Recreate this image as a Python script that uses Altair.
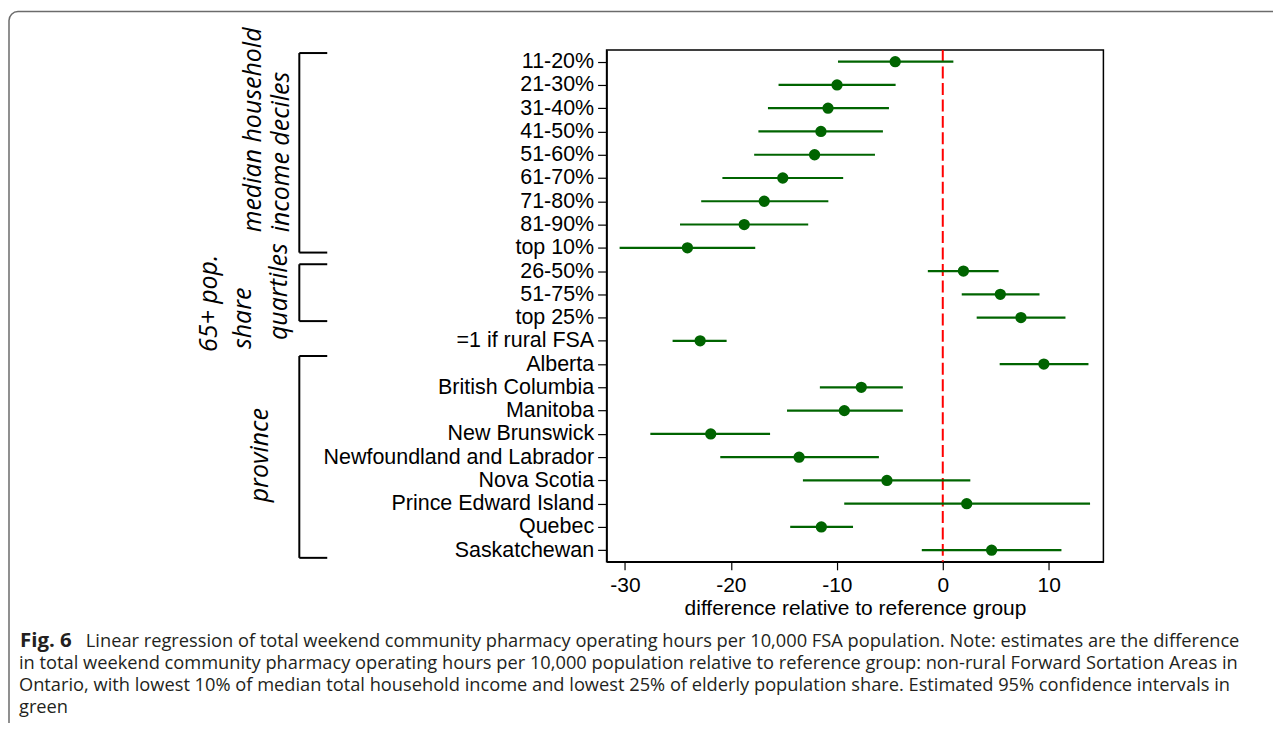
import altair as alt
import pandas as pd

# ---------------- data ----------------
labels = ["11-20%", "21-30%", "31-40%", "41-50%", "51-60%", "61-70%", "71-80%", "81-90%", "top 10%",
          "26-50%", "51-75%", "top 25%", "=1 if rural FSA",
          "Alberta", "British Columbia", "Manitoba", "New Brunswick", "Newfoundland and Labrador",
          "Nova Scotia", "Prince Edward Island", "Quebec", "Saskatchewan"]
estimate = [-4.49, -9.98, -10.83, -11.5, -12.1, -15.1, -16.85, -18.74, -24.1,
            1.95, 5.43, 7.38, -22.9,
            9.54, -7.69, -9.29, -21.9, -13.56, -5.27, 2.26, -11.46, 4.61]
ci_low = [-9.89, -15.5, -16.5, -17.4, -17.8, -20.8, -22.8, -24.8, -30.5,
          -1.41, 1.79, 3.2, -25.5,
          5.37, -11.6, -14.7, -27.6, -21.0, -13.2, -9.3, -14.4, -1.98]
ci_high = [1.0, -4.45, -5.08, -5.65, -6.4, -9.4, -10.8, -12.7, -17.7,
           5.27, 9.13, 11.58, -20.4,
           13.75, -3.77, -3.77, -16.3, -6.03, 2.6, 13.9, -8.47, 11.2]
x_ticks = [-30, -20, -10, 0, 10]

caption_bold = "Fig. 6"
caption_lines = [
    "Linear regression of total weekend community pharmacy operating hours per 10,000 FSA population. Note: estimates are the difference",
    "in total weekend community pharmacy operating hours per 10,000 population relative to reference group: non-rural Forward Sortation Areas in",
    "Ontario, with lowest 10% of median total household income and lowest 25% of elderly population share. Estimated 95% confidence intervals in",
    "green",
]

df = pd.DataFrame({"label": labels, "est": estimate, "lo": ci_low, "hi": ci_high})
one = pd.DataFrame({"a": [0]})

# ---------------- layout (page pixels) ----------------
LEFT, TOP = 608, 49.3          # plot origin on page
W, H = 498, 513
PAD = {"left": LEFT - 8, "top": TOP - 8, "right": 170, "bottom": 715 - (TOP - 8) - H}


def px(x):
    return x - LEFT


def py(y):
    return y - TOP


GREEN = "#006400"
LABEL_FONT = "Liberation Sans"

y_enc = alt.Y("label:N", sort=labels,
              scale=alt.Scale(type="point", padding=0.5),
              axis=alt.Axis(title=None, labelFont=LABEL_FONT, labelFontSize=21.5,
                            labelColor="black", tickColor="black", tickSize=9,
                            tickWidth=1.2, labelPadding=4, labelLimit=0,
                            domainColor="black", domainWidth=1.5))
x_scale = alt.Scale(domain=[-31.73, 15.16], nice=False, zero=False)
x_axis = alt.Axis(values=x_ticks, title="difference relative to reference group",
                  labelExpr="toString(datum.value)",
                  titleFont=LABEL_FONT, titleFontSize=21, titleFontWeight="normal",
                  titleColor="black", titlePadding=2,
                  labelFont=LABEL_FONT, labelFontSize=21, labelColor="black",
                  tickColor="black", tickSize=8, tickWidth=1.2, labelPadding=5,
                  domainColor="black", domainWidth=1.5, grid=False)

base = alt.Chart(df)

ci = base.mark_rule(color=GREEN, strokeWidth=2.2).encode(
    x=alt.X("lo:Q", scale=x_scale, axis=x_axis), x2="hi:Q", y=y_enc)
pts = base.mark_circle(color=GREEN, size=128, opacity=1).encode(
    x=alt.X("est:Q", scale=x_scale), y=y_enc)
zero_line = alt.Chart(one).mark_rule(color="#ff0000", strokeWidth=2,
                                     strokeDash=[12, 4.5]).encode(
    x=alt.datum(0, scale=x_scale))

layers = [zero_line, ci, pts]

# outer figure frame
layers.append(alt.Chart(one).mark_rect(fillOpacity=0, stroke="#6b6b6b", strokeWidth=1.5,
                                       cornerRadius=9).encode(
    x=alt.value(px(9)), x2=alt.value(px(1320)), y=alt.value(py(10.7)), y2=alt.value(py(800))))

# brackets
for top, bot in [(52.3, 252.3), (264, 321), (356, 558.3)]:
    layers.append(alt.Chart(one).mark_rule(color="black", strokeWidth=2).encode(
        x=alt.value(px(300)), y=alt.value(py(top)), y2=alt.value(py(bot))))
    for yy in (top, bot):
        layers.append(alt.Chart(one).mark_rule(color="black", strokeWidth=2).encode(
            x=alt.value(px(300)), x2=alt.value(px(328)), y=alt.value(py(yy))))

# group labels (rotated, italic)
group_labels = [
    ("median household", 254, 232, "left"),
    ("income deciles", 282, 232, "left"),
    ("65+ pop.", 209, 352, "left"),
    ("share", 244, 349, "left"),
    ("quartiles", 280, 340, "left"),
    ("province", 261, 455.5, "center"),
]
for txt, gx, gy, al in group_labels:
    layers.append(alt.Chart(one).mark_text(
        text=txt, angle=270, align=al, baseline="middle", font="Open Sans",
        fontStyle="italic", fontSize=25, color="black").encode(
        x=alt.value(px(gx)), y=alt.value(py(gy))))

# caption
CAP_FS = 18.3
layers.append(alt.Chart(one).mark_text(
    text=caption_bold, align="left", baseline="alphabetic", font="Open Sans",
    fontWeight="bold", fontSize=20.5, color="#231f20").encode(
    x=alt.value(px(20)), y=alt.value(py(648))))
cap_pos = [(86, 648), (19, 670), (19, 692), (19, 714)]
for line, (cx, cy) in zip(caption_lines, cap_pos):
    layers.append(alt.Chart(one).mark_text(
        text=line, align="left", baseline="alphabetic", font="Open Sans",
        fontSize=CAP_FS, color="#231f20").encode(
        x=alt.value(px(cx)), y=alt.value(py(cy))))

chart = alt.layer(*layers).properties(
    width=W, height=H, padding=PAD,
    autosize=alt.AutoSizeParams(type="none"),
    background="white",
).configure_view(stroke="black", strokeWidth=1.5)

chart.save("out.html", embed_options={"renderer": "svg", "actions": False})
